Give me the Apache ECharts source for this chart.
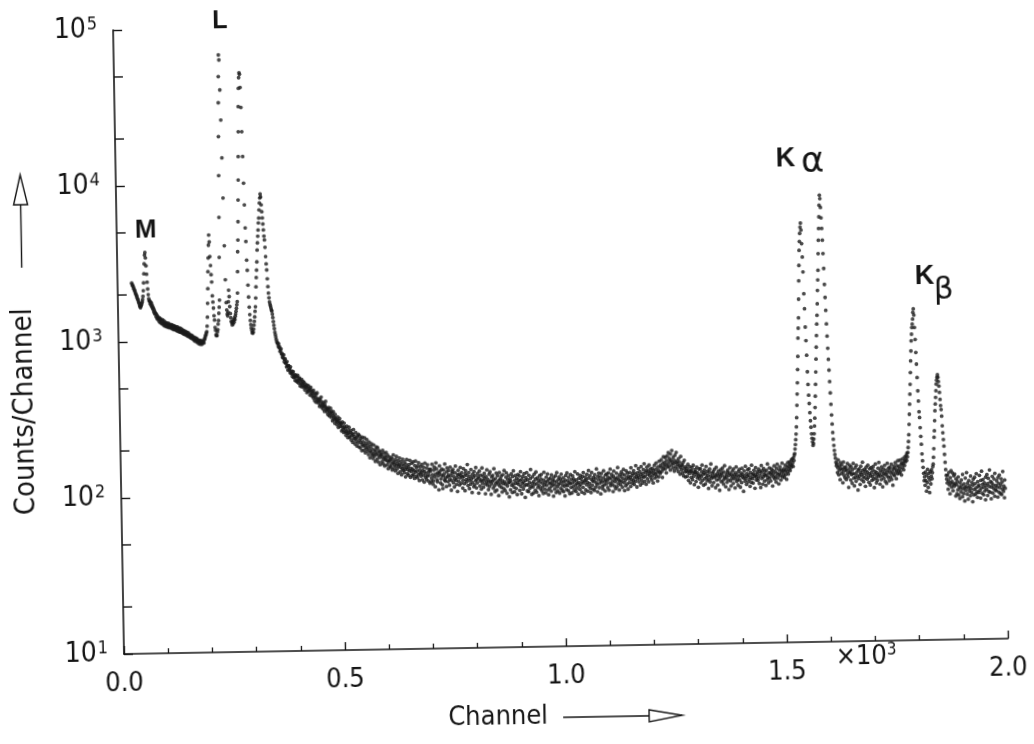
<!DOCTYPE html>
<html>
<head>
<meta charset="utf-8">
<script src="https://cdn.jsdelivr.net/npm/echarts@6/dist/echarts.min.js"></script>
<style>
  html, body { margin: 0; padding: 0; background: #fff; overflow: hidden; }
  #chart { width: 1034px; height: 744px; transform: rotate(-1deg); transform-origin: 124px 654px; }
</style>
</head>
<body>
<div id="chart"></div>
<script>
// X-ray spectrum, counts per channel. Each block lists consecutive channels from its start channel.

// M line and low-channel continuum
const startM = 32;
const countsM = [
  2380, 2330, 2290, 2270, 2215, 2180, 2140, 2100, 2060, 2020,
  1980, 1950, 1905, 1870, 1835, 1790, 1760, 1710, 1675, 1650,
  1690, 1720, 1760, 1800, 1860, 1950, 2120, 2380, 2720, 3150,
  3580, 3720, 3440, 3060, 2700, 2400, 2170, 2000, 1880, 1820,
  1820, 1745, 1790, 1700, 1760, 1655, 1700, 1610, 1640, 1545,
  1590, 1500, 1535, 1510, 1440, 1490, 1405, 1455, 1380, 1420,
  1395, 1340, 1410, 1320, 1375, 1385, 1300, 1355, 1290, 1370,
  1310, 1265, 1345, 1290, 1250, 1320, 1280, 1245, 1305, 1230,
  1290, 1255, 1300, 1220, 1270, 1235, 1280, 1215, 1250, 1275,
  1200, 1260, 1225, 1185, 1255, 1230, 1190, 1240, 1175, 1225,
  1210, 1160, 1230, 1195, 1150, 1205, 1180, 1140, 1210, 1160,
  1135, 1190, 1150, 1120, 1175, 1140, 1105, 1160, 1125, 1100,
  1150, 1115, 1085, 1135, 1100, 1070, 1125, 1080, 1105, 1055,
  1090, 1065, 1040, 1085, 1050, 1075, 1025, 1060, 1035, 1005,
  1050, 1020, 990, 1040, 1005, 1030, 975, 1015, 995, 960,
  1005, 980, 950, 995, 970, 1000, 945, 985, 960, 975,
  990, 965, 1010, 1030, 1045, 1075, 1090, 1120
];

// L lines
const startL = 200;
const countsL = [
  1140, 1235, 1410, 1730, 2150, 2760, 3380, 4080, 4740, 4280,
  3450, 3020, 2640, 2370, 1930, 1760, 1610, 1440, 1350, 1210,
  1160, 1085, 1070, 1075, 1130, 1170, 1270, 1340, 1490, 1630,
  1810, 3400, 6140, 11360, 20200, 33300, 49000, 67400, 62600, 40200,
  25800, 14750, 8160, 4030, 2440, 1740, 1560, 1470, 1430, 1510,
  1760, 2090, 1900, 1640, 1480, 1390, 1320, 1290, 1250, 1310,
  1270, 1340, 1300, 1380, 1350, 1420, 1470, 1530, 1600, 1680,
  1760, 2000, 2740, 3680, 4370, 5730, 7890, 10600, 14960, 21600,
  31300, 41000, 48000, 51600, 50500, 41500, 30900, 21600, 14960, 10100,
  7330, 5220, 4270, 3240, 2790, 2240, 1880, 1620, 1450, 1330,
  1250, 1190, 1150, 1110, 1100, 1120, 1170, 1240, 1310, 1400,
  1520, 1625, 1850, 2180, 2500, 2790, 3150, 3750, 4170, 4600,
  5040, 5600, 6020, 6780, 7510, 8100, 8570, 8200, 7300, 6600,
  6020, 5500, 5040, 4600, 4350, 3900, 3400, 3050, 2790, 2450,
  2180, 1980, 1850, 1740, 1680, 1640, 1590, 1540, 1520, 1450,
  1380, 1300, 1230, 1170, 1110, 1070, 1030, 995, 965, 945
];

// falling continuum
const startFall = 360;
const countsFall = [
  944, 902, 932, 881, 893, 836, 850, 868, 804, 813,
  766, 794, 757, 793, 715, 742, 747, 701, 705, 663,
  718, 674, 632, 676, 675, 635, 646, 607, 663, 617,
  598, 622, 574, 599, 617, 566, 572, 585, 542, 589,
  569, 538, 574, 530, 584, 543, 521, 554, 562, 500,
  541, 522, 494, 548, 515, 505, 532, 487, 526, 498,
  470, 512, 493, 488, 452, 505, 476, 459, 498, 465,
  479, 436, 470, 488, 450, 431, 462, 447, 418, 466,
  430, 402, 447, 421, 391, 438, 412, 449, 400, 388,
  412, 396, 368, 409, 377, 398, 421, 362, 384, 371,
  353, 389, 370, 341, 378, 364, 395, 348, 359, 336,
  352, 324, 347, 361, 318, 339, 330, 356, 312, 341,
  329, 296, 318, 338, 302, 311, 285, 325, 307, 294,
  301, 279, 292, 312, 268, 295, 283, 305, 271, 287,
  282, 254, 273, 290, 259, 266, 248, 285, 270, 252,
  263, 238, 251, 272, 244, 230, 257, 246, 268, 235,
  229, 248, 256, 221, 237, 245, 214, 240, 259, 226,
  233, 209, 226, 247, 218, 203, 229, 236, 212, 241,
  200, 221, 235, 197, 214, 226, 189, 208, 231, 203,
  216, 190, 205, 228, 183, 199, 211, 194, 222, 187,
  205, 178, 196, 214, 170, 188, 201, 184, 209, 176,
  193, 168, 180, 205, 174, 186, 161, 191, 178, 199,
  166, 182, 197, 159, 175, 188, 170, 153, 184, 177,
  178, 160, 171, 189, 155, 166, 182, 150, 173, 164,
  169, 183, 152, 162, 176, 144, 158, 171, 163, 149,
  163, 147, 170, 154, 141, 166, 158, 176, 145, 152,
  158, 139, 164, 150, 172, 143, 155, 134, 161, 149,
  152, 168, 137, 146, 159, 131, 153, 143, 165, 140,
  149, 135, 158, 142, 127, 153, 146, 164, 133, 141,
  147, 130, 152, 139, 162, 126, 144, 137, 155, 129,
  142, 158, 131, 139, 124, 150, 136, 160, 128, 145,
  138, 125, 149, 131, 156, 120, 140, 133, 147, 128,
  135, 152, 121, 139, 130, 146, 117, 137, 155, 126,
  133, 122, 144, 128, 151, 119, 136, 129, 141, 115
];

// flat continuum
const startFlat = 700;
const countsFlat = [
  137, 141, 118, 124, 152, 130, 113, 119, 139, 146,
  126, 109, 131, 155, 142, 121, 117, 134, 128, 104,
  133, 148, 137, 115, 122, 129, 141, 112, 106, 127,
  139, 131, 120, 152, 118, 124, 109, 135, 143, 126,
  117, 129, 138, 111, 121, 145, 127, 103, 119, 132,
  136, 140, 115, 126, 108, 121, 133, 147, 119, 112,
  124, 101, 129, 138, 117, 130, 111, 123, 144, 128,
  114, 133, 125, 106, 119, 141, 126, 113, 102, 131,
  137, 120, 116, 128, 150, 110, 122, 133, 105, 118,
  126, 112, 139, 121, 99, 115, 130, 124, 108, 135,
  111, 127, 118, 143, 106, 120, 114, 131, 125, 98,
  122, 136, 109, 117, 128, 104, 119, 142, 113, 126,
  107, 118, 131, 122, 97, 112, 125, 116, 138, 110,
  120, 103, 115, 129, 108, 134, 117, 96, 112, 124,
  116, 127, 105, 119, 140, 109, 100, 121, 113, 131,
  102, 115, 126, 111, 94, 118, 132, 108, 120, 113,
  125, 106, 99, 117, 128, 112, 104, 136, 115, 101,
  111, 123, 131, 97, 108, 119, 113, 126, 92, 114,
  120, 102, 116, 129, 109, 98, 124, 111, 135, 106,
  99, 117, 126, 112, 104, 121, 95, 113, 128, 118,
  110, 125, 101, 116, 133, 107, 96, 119, 112, 124,
  103, 114, 129, 108, 91, 117, 122, 110, 131, 100,
  118, 109, 99, 126, 113, 104, 120, 137, 107, 95,
  112, 123, 106, 97, 115, 128, 110, 101, 119, 132,
  98, 111, 121, 105, 116, 93, 108, 125, 114, 103,
  119, 127, 100, 112, 106, 96, 117, 131, 109, 102,
  113, 97, 122, 108, 115, 128, 101, 94, 118, 111,
  104, 120, 112, 99, 126, 107, 116, 110, 92, 121,
  115, 102, 108, 124, 97, 113, 130, 105, 99, 117,
  109, 122, 96, 111, 118, 103, 127, 114, 100, 108,
  120, 98, 113, 106, 92, 116, 124, 109, 101, 129,
  107, 115, 99, 121, 112, 95, 110, 126, 104, 117,
  96, 111, 123, 105, 118, 100, 114, 131, 108, 98,
  116, 103, 110, 127, 94, 112, 119, 106, 101, 124,
  109, 118, 97, 113, 122, 104, 129, 111, 95, 115,
  121, 100, 116, 108, 126, 112, 98, 119, 133, 105,
  110, 123, 102, 96, 117, 129, 107, 114, 101, 120,
  113, 99, 125, 118, 104, 111, 136, 108, 97, 122,
  116, 128, 103, 110, 121, 94, 115, 127, 112, 105,
  101, 119, 132, 107, 113, 98, 124, 116, 109, 126,
  114, 103, 120, 128, 99, 117, 110, 135, 106, 119,
  125, 108, 113, 97, 122, 131, 105, 118, 112, 101,
  116, 127, 104, 119, 138, 109, 115, 99, 124, 113,
  107, 120, 129, 112, 103, 125, 117, 134, 110, 98,
  123, 114, 105, 131, 118, 108, 127, 100, 121, 116,
  110, 128, 119, 104, 137, 115, 122, 109, 126, 113,
  131, 107, 118, 125, 112, 141, 120, 103, 127, 116,
  122, 135, 111, 118, 129, 106, 124, 139, 114, 120,
  109, 126, 133, 119, 145, 112, 121, 128, 107, 131,
  138, 116, 124, 130, 111, 142, 122, 127, 134, 118
];

// broad hump near channel 1240 and plateau up to the K lines
const startBump = 1200;
const countsBump = [
  128, 114, 135, 122, 109, 131, 126, 141, 117, 124,
  133, 146, 120, 127, 112, 138, 131, 119, 150, 128,
  125, 141, 137, 153, 129, 118, 145, 134, 160, 139,
  147, 133, 158, 142, 126, 151, 162, 137, 144, 170,
  138, 156, 149, 131, 166, 152, 141, 175, 147, 135,
  158, 144, 129, 151, 163, 137, 146, 170, 133, 149,
  142, 128, 155, 139, 147, 123, 136, 160, 131, 141,
  125, 139, 146, 120, 133, 151, 127, 118, 137, 129,
  134, 119, 127, 142, 112, 130, 124, 137, 108, 128,
  117, 129, 135, 113, 124, 140, 119, 105, 126, 131,
  127, 110, 122, 136, 116, 125, 101, 119, 132, 114,
  121, 133, 108, 118, 127, 140, 112, 122, 104, 125,
  130, 115, 106, 123, 137, 117, 111, 128, 120, 99,
  113, 126, 132, 109, 119, 142, 115, 103, 124, 118,
  127, 108, 116, 131, 121, 100, 118, 135, 112, 123,
  104, 119, 128, 113, 96, 122, 117, 130, 109, 124,
  120, 133, 111, 105, 126, 116, 138, 114, 101, 121,
  117, 108, 125, 129, 112, 97, 119, 123, 134, 110,
  102, 121, 114, 127, 118, 106, 131, 113, 120, 99,
  124, 116, 135, 109, 120, 112, 103, 126, 117, 130,
  111, 100, 119, 123, 107, 132, 116, 121, 94, 114,
  127, 118, 109, 136, 113, 104, 122, 117, 129, 108,
  119, 131, 112, 101, 124, 115, 107, 138, 120, 113,
  106, 122, 128, 117, 98, 119, 133, 111, 116, 125,
  121, 110, 114, 130, 105, 126, 118, 99, 123, 137,
  113, 127, 104, 116, 131, 120, 109, 125, 118, 102,
  128, 119, 111, 140, 115, 106, 123, 132, 114, 121,
  109, 124, 130, 118, 101, 127, 121, 115, 136, 112,
  125, 116, 107, 131, 122, 139, 113, 119, 104, 128,
  121, 134, 117, 110, 128, 123, 141, 115, 126, 119,
  130, 114, 125, 137, 119, 128, 111, 133, 124, 142,
  120, 135, 129, 143, 126, 138, 132, 147, 136, 150,
  141, 134, 152, 146, 158, 162, 173, 185, 199, 216
];

// K-alpha doublet
const startKa = 1530;
const countsKa = [
  240, 275, 330, 390, 460, 560, 680, 890, 1030, 1200,
  1580, 2070, 2600, 3250, 3700, 4170, 4570, 4850, 4380, 3580,
  2940, 2360, 1710, 1370, 1045, 855, 690, 540, 448, 382,
  338, 295, 262, 238, 216, 202, 192, 182, 187, 200,
  216, 242, 272, 318, 376, 448, 537, 650, 775, 920,
  1090, 1240, 1470, 1790, 2090, 2410, 3080, 3750, 4460, 5300,
  6290, 7300, 6930, 6080, 5220, 4460, 3750, 3080, 2470, 1950,
  1610, 1330, 1090, 910, 760, 645, 550, 465, 393, 332,
  284, 248, 219, 198, 181, 168, 158, 150, 141, 134,
  138, 121, 130, 146, 117, 125, 133, 109, 140, 128,
  119, 135, 127, 104, 122, 141, 116, 130, 112, 126,
  131, 109, 124, 118, 138, 113, 97, 127, 120, 134
];

// continuum between K-alpha and K-beta
const startMid = 1650;
const countsMid = [
  122, 108, 131, 117, 103, 126, 119, 138, 111, 99,
  118, 129, 112, 106, 134, 121, 115, 93, 125, 110,
  127, 114, 101, 120, 132, 117, 108, 124, 140, 113,
  105, 119, 126, 111, 98, 123, 130, 116, 109, 121,
  134, 112, 104, 118, 127, 100, 115, 129, 120, 107,
  113, 125, 131, 109, 96, 117, 122, 136, 111, 103,
  120, 107, 116, 128, 113, 139, 118, 101, 124, 114,
  108, 130, 121, 97, 115, 126, 110, 119, 133, 105,
  117, 124, 102, 114, 137, 120, 111, 128, 106, 123,
  129, 112, 118, 135, 108, 121, 99, 126, 116, 131,
  114, 127, 138, 120, 109, 124, 132, 117, 142, 122,
  130, 118, 126, 143, 121, 134, 115, 137, 128, 146,
  135, 124, 141, 132, 150, 139, 145, 153, 142, 158
];

// K-beta pair
const startKb = 1780;
const countsKb = [
  150, 160, 172, 188, 208, 242, 281, 326, 378, 437,
  520, 617, 715, 829, 915, 1010, 1062, 1143, 1262, 1330,
  1212, 1010, 846, 698, 588, 482, 396, 341, 291, 267,
  230, 202, 180, 156, 141, 128, 117, 105, 111, 98,
  119, 105, 90, 114, 102, 124, 95, 110, 117, 88,
  106, 120, 100, 112, 123, 108, 118, 129, 134, 148,
  168, 199, 219, 254, 294, 325, 358, 395, 436, 462,
  482, 500, 481, 452, 423, 385, 347, 317, 299, 271,
  235, 212, 192, 174, 154, 137, 123, 113, 107, 101,
  113, 92, 104, 118, 98, 86, 109, 101, 121, 95,
  103, 117, 90, 99, 112, 96, 115, 100, 83, 107
];

// high-channel tail
const startTail = 1890;
const countsTail = [
  98, 86, 103, 91, 110, 84, 95, 80, 101, 93,
  88, 105, 97, 82, 114, 92, 86, 99, 77, 94,
  108, 90, 95, 117, 85, 100, 79, 93, 104, 89,
  96, 83, 111, 92, 87, 101, 76, 97, 106, 84,
  91, 109, 99, 85, 93, 115, 88, 81, 102, 95,
  87, 97, 112, 90, 80, 104, 93, 119, 86, 98,
  105, 84, 94, 100, 89, 78, 109, 96, 91, 113,
  83, 99, 107, 88, 95, 121, 87, 102, 79, 94,
  100, 110, 86, 97, 92, 106, 82, 115, 90, 96,
  89, 103, 94, 81, 108, 99, 87, 112, 93, 85,
  97, 106, 84, 101, 91, 118, 88, 95, 80, 104, 92
];

// axis text
const xTickLabels = ['0.0', '0.5', '1.0', '1.5', '2.0'];
const yExponents = ['1', '2', '3', '4', '5'];
const yMinorTicks = [20, 50, 200, 500, 2000, 5000, 20000, 50000];
const peakNames = ['M', 'L', 'K', 'α', 'K', 'β'];

const blocks = [
  [startM, countsM], [startL, countsL], [startFall, countsFall], [startFlat, countsFlat],
  [startBump, countsBump], [startKa, countsKa], [startMid, countsMid], [startKb, countsKb],
  [startTail, countsTail]
];
const points = [];
blocks.forEach(([start, counts]) => counts.forEach((c, i) => points.push([start + i, c])));

const ink = '#151515';
const F = "'DejaVu Sans Condensed', 'Liberation Sans Narrow', 'DejaVu Sans', sans-serif";

const chart = echarts.init(document.getElementById('chart'), null, { renderer: 'canvas' });
chart.setOption({
  animation: false,
  backgroundColor: '#ffffff',
  grid: { left: 124, top: 30, width: 884, height: 624, containLabel: false },
  xAxis: {
    type: 'value', min: 0, max: 2000, interval: 500,
    axisLine: { show: true, lineStyle: { color: ink, width: 1.6 } },
    axisTick: { show: true, inside: true, length: 8, lineStyle: { color: ink, width: 1.4 } },
    minorTick: { show: true, splitNumber: 5, length: 5, lineStyle: { color: ink, width: 1.3 } },
    splitLine: { show: false },
    axisLabel: {
      margin: 16, color: ink, fontFamily: F, fontSize: 27,
      formatter: v => xTickLabels[Math.round(v / 500)]
    }
  },
  yAxis: {
    type: 'log', logBase: 10, min: 10, max: 100000,
    axisLine: { show: true, lineStyle: { color: ink, width: 1.6 } },
    axisTick: { show: true, inside: true, length: 9, lineStyle: { color: ink, width: 1.4 } },
    splitLine: { show: false },
    axisLabel: {
      margin: 16, color: ink,
      formatter: v => '{b|10}{s|' + yExponents[Math.round(Math.log10(v)) - 1] + '}',
      rich: {
        b: { fontFamily: F, fontSize: 28, color: ink, lineHeight: 30, verticalAlign: 'middle' },
        s: { fontFamily: F, fontSize: 18, color: ink, lineHeight: 16, verticalAlign: 'top', padding: [0, 0, 0, 1] }
      }
    }
  },
  series: [{
    type: 'scatter',
    data: points,
    symbol: 'circle',
    symbolSize: 3.8,
    large: false,
    itemStyle: { color: '#1b1b1b' },
    emphasis: { disabled: true }
  }]
});

// decorations: minor log ticks, axis titles with arrows, line labels
const x0 = chart.convertToPixel({ xAxisIndex: 0 }, 0);
const gfx = yMinorTicks.map(v => {
  const y = chart.convertToPixel({ yAxisIndex: 0 }, v);
  return { type: 'line', shape: { x1: x0, y1: y, x2: x0 + 9, y2: y }, style: { stroke: ink, lineWidth: 1.4 } };
});
const arrowStyle = { stroke: ink, lineWidth: 1.4, fill: null };
gfx.push(
  { type: 'text', x: 497, y: 724, style: { text: 'Channel', fontFamily: F, fontSize: 27, fill: ink, align: 'center', verticalAlign: 'middle' } },
  { type: 'line', shape: { x1: 562, y1: 725, x2: 648, y2: 725 }, style: arrowStyle },
  { type: 'polygon', shape: { points: [[648, 719], [681, 725], [648, 731]] }, style: arrowStyle },
  { type: 'text', x: 29, y: 410, rotation: Math.PI / 2, style: { text: 'Counts/Channel', fontFamily: F, fontSize: 29, fill: ink, align: 'center', verticalAlign: 'middle' } },
  { type: 'line', shape: { x1: 28.5, y1: 266, x2: 28.5, y2: 203 }, style: arrowStyle },
  { type: 'polygon', shape: { points: [[21.5, 203], [28.5, 173], [35.5, 203]] }, style: arrowStyle },
  { type: 'text', x: 866, y: 670, style: {
      text: '{a|×10}{b|3}', align: 'center', verticalAlign: 'middle',
      rich: {
        a: { fontFamily: F, fontSize: 27, fill: ink, lineHeight: 30, verticalAlign: 'middle' },
        b: { fontFamily: F, fontSize: 17, fill: ink, lineHeight: 15, verticalAlign: 'top' }
      } } },
  { type: 'text', x: 153, y: 231, style: { text: peakNames[0], fontFamily: 'Liberation Sans', fontWeight: 'bold', fontSize: 26, fill: ink, align: 'center', verticalAlign: 'middle' } },
  { type: 'text', x: 231, y: 23, style: { text: peakNames[1], fontFamily: 'Liberation Sans', fontWeight: 'bold', fontSize: 25, fill: ink, align: 'center', verticalAlign: 'middle' } },
  { type: 'text', x: 794, y: 171, style: { text: peakNames[2], fontFamily: 'Liberation Sans', fontWeight: 'bold', fontSize: 27, fill: ink, align: 'center', verticalAlign: 'middle' } },
  { type: 'text', x: 821, y: 175, style: { text: peakNames[3], fontFamily: 'DejaVu Sans', fontSize: 35, fill: ink, align: 'center', verticalAlign: 'middle' } },
  { type: 'text', x: 931, y: 291, style: { text: peakNames[4], fontFamily: 'Liberation Sans', fontWeight: 'bold', fontSize: 27, fill: ink, align: 'center', verticalAlign: 'middle' } },
  { type: 'text', x: 950, y: 305, style: { text: peakNames[5], fontFamily: 'DejaVu Sans', fontSize: 31, fill: ink, align: 'center', verticalAlign: 'middle' } }
);
chart.setOption({ graphic: gfx });
</script>
</body>
</html>
